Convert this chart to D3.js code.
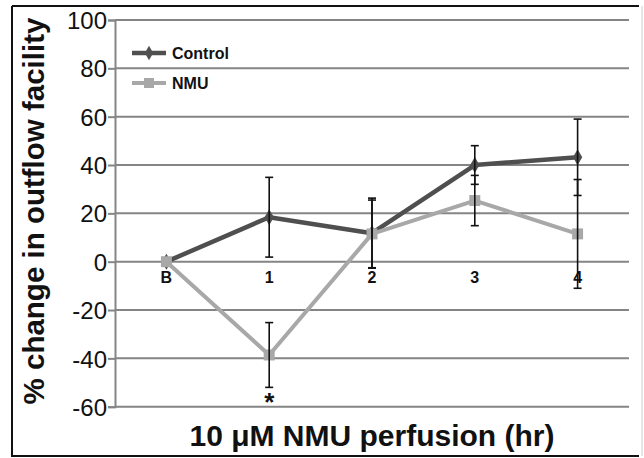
<!DOCTYPE html>
<html>
<head>
<meta charset="utf-8">
<script src="https://cdn.jsdelivr.net/npm/d3@7"></script>
<style>
  body { margin: 0; background: #fff; }
  text { font-family: "Liberation Sans", Arial, sans-serif; }
</style>
</head>
<body>
<div id="chart"></div>
<script>
// data
var categories = ["B", "1", "2", "3", "4"];
var controlMean = [0, 18.4, 11.8, 40, 43.2];
var controlErr  = [0, 16.5, 14.5, 8, 15.8];
var nmuMean = [0, -38.6, 11.5, 25.3, 11.5];
var nmuErr  = [0, 13.4, 14, 10.4, 22.5];
var yTicks = [-60, -40, -20, 0, 20, 40, 60, 80, 100];
var starAt = "1";

var W = 644, H = 458;
var plot = {left: 115, right: 629, top: 20, bottom: 406.7};

var svg = d3.select("#chart").append("svg")
  .attr("width", W).attr("height", H);

// outer frame
svg.append("rect").attr("x", 0).attr("y", 0).attr("width", W).attr("height", H).attr("fill", "#fff");
svg.append("path")
  .attr("d", "M12,6 H639 M12,6 V456 H639")
  .attr("stroke", "#111").attr("stroke-width", 2).attr("fill", "none");
svg.append("line").attr("x1", 642).attr("x2", 642).attr("y1", 6).attr("y2", 456)
  .attr("stroke", "#ccc").attr("stroke-width", 1);

var x = d3.scaleBand()
  .domain(categories)
  .range([plot.left, plot.right]);

var y = d3.scaleLinear()
  .domain([-60, 100])
  .range([plot.bottom, plot.top]);

// gridlines
svg.append("g")
  .selectAll("line")
  .data(yTicks)
  .enter().append("line")
    .attr("x1", plot.left).attr("x2", plot.right)
    .attr("y1", function(d) { return y(d); })
    .attr("y2", function(d) { return y(d); })
    .attr("stroke", "#858585").attr("stroke-width", 2);

// y axis
var yAxis = svg.append("g")
  .attr("transform", "translate(" + plot.left + ",0)")
  .call(d3.axisLeft(y).tickValues(yTicks).tickSize(7).tickPadding(1)
    .tickFormat(function(d) { return String(d); }));
yAxis.select(".domain").attr("stroke", "#858585").attr("stroke-width", 2);
yAxis.selectAll(".tick line").attr("stroke", "#858585").attr("stroke-width", 2);
yAxis.selectAll(".tick text")
  .attr("font-size", 24).attr("fill", "#111")
  .attr("font-family", "Liberation Sans, Arial, sans-serif")
  .attr("dy", "0.36em");

// category labels under the zero line
svg.append("g")
  .selectAll("text")
  .data(categories)
  .enter().append("text")
    .attr("x", function(d) { return x(d) + x.bandwidth() / 2; })
    .attr("y", y(0) + 21)
    .attr("text-anchor", "middle")
    .attr("font-size", 16).attr("font-weight", "bold").attr("fill", "#111")
    .text(function(d) { return d; });

function cx(i) { return x(categories[i]) + x.bandwidth() / 2; }

var line = d3.line()
  .x(function(d, i) { return cx(i); })
  .y(function(d) { return y(d); });

var series = [
  {name: "Control", mean: controlMean, err: controlErr, color: "#4f4f4f", width: 4.5, marker: d3.symbolDiamond},
  {name: "NMU", mean: nmuMean, err: nmuErr, color: "#a8a8a8", width: 4, marker: d3.symbolSquare}
];

series.forEach(function(s) {
  svg.append("path")
    .datum(s.mean)
    .attr("d", line)
    .attr("fill", "none")
    .attr("stroke", s.color)
    .attr("stroke-width", s.width)
    .attr("stroke-linejoin", "round");
  svg.append("g")
    .selectAll("path")
    .data(s.mean)
    .enter().append("path")
      .attr("transform", function(d, i) { return "translate(" + cx(i) + "," + y(d) + ")"; })
      .attr("d", d3.symbol().type(s.marker).size(s.name == "NMU" ? 120 : 75))
      .attr("fill", s.color);
});

// error bars
series.forEach(function(s) {
  var g = svg.append("g").attr("stroke", "#111").attr("stroke-width", 1.6);
  s.mean.forEach(function(m, i) {
    var e = s.err[i];
    if (!e) return;
    var xx = cx(i);
    g.append("line").attr("x1", xx).attr("x2", xx).attr("y1", y(m + e)).attr("y2", y(m - e));
    g.append("line").attr("x1", xx - 4).attr("x2", xx + 4).attr("y1", y(m + e)).attr("y2", y(m + e));
    g.append("line").attr("x1", xx - 4).attr("x2", xx + 4).attr("y1", y(m - e)).attr("y2", y(m - e));
  });
});

// significance star
var si = categories.indexOf(starAt);
svg.append("text")
  .attr("x", cx(si))
  .attr("y", y(nmuMean[si] - nmuErr[si]) + 24)
  .attr("text-anchor", "middle")
  .attr("font-size", 26).attr("font-weight", "bold").attr("fill", "#111")
  .text("*");

// legend
var legend = svg.append("g");
series.forEach(function(s, i) {
  var ly = 53 + i * 30;
  legend.append("line")
    .attr("x1", 132).attr("x2", 166).attr("y1", ly).attr("y2", ly)
    .attr("stroke", s.color).attr("stroke-width", s.width);
  legend.append("path")
    .attr("transform", "translate(149," + ly + ")")
    .attr("d", d3.symbol().type(s.marker).size(s.name == "NMU" ? 100 : 60))
    .attr("fill", s.color);
  legend.append("text")
    .attr("x", 172).attr("y", ly + 6)
    .attr("font-size", 16).attr("font-weight", "bold").attr("fill", "#111")
    .text(s.name);
});

// axis titles
svg.append("text")
  .attr("transform", "translate(44," + 211 + ") rotate(-90)")
  .attr("text-anchor", "middle")
  .attr("font-size", 29.5).attr("font-weight", "bold").attr("fill", "#111")
  .text("% change in outflow facility");

svg.append("text")
  .attr("x", 372).attr("y", 446)
  .attr("text-anchor", "middle")
  .attr("font-size", 30).attr("font-weight", "bold").attr("fill", "#111")
  .text("10 \u03BCM NMU perfusion (hr)");
</script>
</body>
</html>
